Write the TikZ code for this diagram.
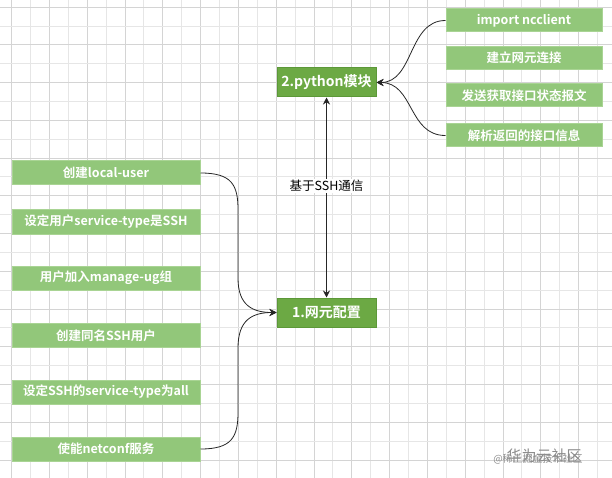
\documentclass[tikz,border=0pt]{standalone}
\usepackage{fontspec}
\setmainfont{Noto Sans CJK SC}
\newfontfamily\cjkbold{Noto Sans CJK SC Bold}
\usetikzlibrary{arrows.meta}
\definecolor{mainfill}{HTML}{6CA944}
\definecolor{maindraw}{HTML}{5C9838}
\definecolor{leaffill}{HTML}{92C77A}
\definecolor{leafdraw}{HTML}{A9D494}
\definecolor{gridmaj}{HTML}{D4D4D4}
\definecolor{gridmin}{HTML}{E6E6E6}
\tikzset{
  leafbox/.style={draw=leafdraw, line width=1pt, fill=leaffill, text=white, inner sep=1pt,
    font=\cjkbold\fontsize{12.5}{14}\selectfont},
  leftbox/.style={leafbox, minimum width=188pt, minimum height=24pt},
  rightbox/.style={leafbox, minimum width=156pt, minimum height=23pt},
  mainbox/.style={draw=maindraw, line width=1pt, fill=mainfill, text=white, inner sep=1pt,
    minimum width=99pt, minimum height=29pt, font=\cjkbold\fontsize{14}{16}\selectfont},
  conn/.style={draw=black!85, line width=0.8pt, -{Stealth[length=7pt,width=7pt]}},
  biconn/.style={draw=black!85, line width=0.8pt, {Stealth[length=7pt,width=7pt]}-{Stealth[length=7pt,width=7pt]}},
  lbl/.style={fill=white, text=black, inner sep=1.5pt, font=\fontsize{12.5}{14}\selectfont},
  wmark/.style={text=black!45, inner sep=0pt}
}
\begin{document}
\begin{tikzpicture}[x=1pt,y=-1pt]
\useasboundingbox (0,0) rectangle (612,478);
\fill[white] (0,0) rectangle (612,478);
% grid
\foreach \i in {0,...,32} {
  \pgfmathsetmacro{\gx}{11.5+\i*18.9}
  \ifodd\i \draw[gridmin, line width=0.7pt] (\gx,0) -- (\gx,478);
  \else \draw[gridmaj, line width=0.7pt] (\gx,0) -- (\gx,478); \fi
}
\foreach \j in {0,...,25} {
  \pgfmathsetmacro{\gy}{7+\j*18.87}
  \ifodd\j \draw[gridmin, line width=0.7pt] (0,\gy) -- (612,\gy);
  \else \draw[gridmaj, line width=0.7pt] (0,\gy) -- (612,\gy); \fi
}
% main nodes
\node[mainbox] (py) at (326.5,82.5) {2.python模块};
\node[mainbox] (ne) at (326.5,312.5) {1.网元配置};
% right boxes
\node[rightbox] (r1) at (524,20.5) {import ncclient};
\node[rightbox] (r2) at (524,58) {建立网元连接};
\node[rightbox] (r3) at (524,95.5) {发送获取接口状态报文};
\node[rightbox] (r4) at (524,135.5) {解析返回的接口信息};
% left boxes
\node[leftbox] (l1) at (106,173) {创建local-user};
\node[leftbox] (l2) at (106,222) {设定用户service-type是SSH};
\node[leftbox] (l3) at (106,278) {用户加入manage-ug组};
\node[leftbox] (l4) at (106,335.5) {创建同名SSH用户};
\node[leftbox] (l5) at (106,392) {设定SSH的service-type为all};
\node[leftbox] (l6) at (106,449) {使能netconf服务};
% connectors
\draw[conn] (r1.west) .. controls (408,20.5) and (414,82.5) .. (py.east);
\draw[conn] (r4.west) .. controls (408,135.5) and (414,82.5) .. (py.east);
\draw[conn] (l1.east) .. controls (232,173) and (238,185) .. (238,210) -- (238,278) .. controls (238,305) and (252,312.5) .. (ne.west);
\draw[conn] (l6.east) .. controls (232,449) and (238,437) .. (238,412) -- (238,348) .. controls (238,320) and (252,312.5) .. (ne.west);
\draw[biconn] (py.south) -- (ne.north) node[lbl, pos=0.443] (lb) {基于SSH通信};
% watermark
\node[wmark, font=\fontsize{10}{12}\selectfont] (wm2) at (538,459) {@稀土掘金技术社区};
\node[wmark, font=\fontsize{15}{17}\selectfont] (wm1) at (544,456) {华为云社区};
\end{tikzpicture}
\end{document}
